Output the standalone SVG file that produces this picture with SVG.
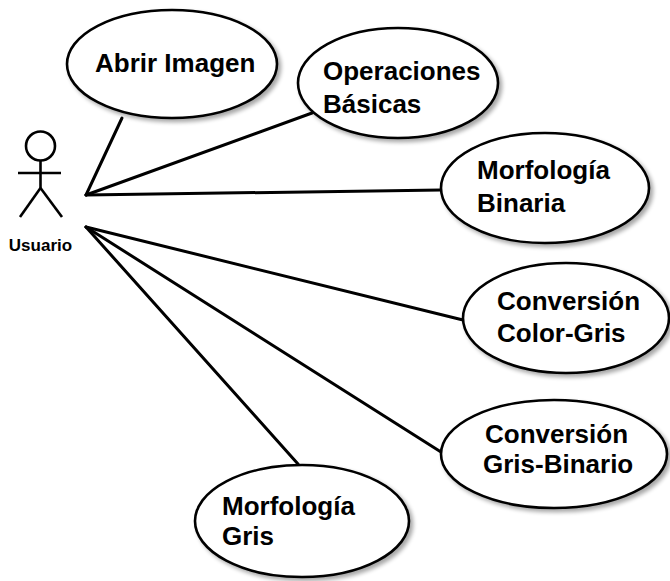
<svg xmlns="http://www.w3.org/2000/svg" width="670" height="581" viewBox="0 0 670 581">
<defs>
<filter id="sh" x="-10%" y="-10%" width="125%" height="130%">
<feGaussianBlur in="SourceAlpha" stdDeviation="2"/>
<feOffset dx="3" dy="3" result="b"/>
<feComponentTransfer><feFuncA type="linear" slope="0.35"/></feComponentTransfer>
<feMerge><feMergeNode/><feMergeNode in="SourceGraphic"/></feMerge>
</filter>
<style>
.uc{fill:#fff;stroke:#000;stroke-width:2.6;filter:url(#sh)}
.t{font-family:"Liberation Sans",Arial,sans-serif;font-weight:bold;font-size:26px;fill:#000}
.c{stroke:#000;stroke-width:3;fill:none;stroke-linecap:round}
.a{stroke:#000;stroke-width:2.6;fill:none}
</style>
</defs>
<rect width="670" height="581" fill="#fff"/>
<g id="connectors">
<line class="c" x1="86" y1="195" x2="122" y2="118"/>
<line class="c" x1="86" y1="195" x2="312" y2="113"/>
<line class="c" x1="86" y1="195" x2="441" y2="190"/>
<line class="c" x1="86" y1="227" x2="463" y2="320"/>
<line class="c" x1="86" y1="227" x2="441" y2="452"/>
<line class="c" x1="86" y1="227" x2="298" y2="464"/>
</g>
<g id="actor-usuario">
<circle class="a" cx="40.5" cy="146" r="14.5"/>
<line class="a" x1="40.5" y1="160.5" x2="40.5" y2="188"/>
<line class="a" x1="18" y1="173" x2="61" y2="173"/>
<line class="a" x1="40.5" y1="188" x2="20" y2="217"/>
<line class="a" x1="40.5" y1="188" x2="62" y2="217"/>
<text x="40.5" y="251" text-anchor="middle" style="font-family:'Liberation Sans',Arial,sans-serif;font-weight:bold;font-size:17px">Usuario</text>
</g>
<g id="uc-abrir-imagen">
<ellipse class="uc" cx="172" cy="64" rx="105" ry="54"/>
<text class="t" x="95" y="72">Abrir Imagen</text>
</g>
<g id="uc-operaciones-basicas">
<ellipse class="uc" cx="398" cy="83" rx="100" ry="55"/>
<text class="t" x="323" y="80">Operaciones</text>
<text class="t" x="323" y="113">Básicas</text>
</g>
<g id="uc-morfologia-binaria">
<ellipse class="uc" cx="545" cy="188" rx="104" ry="55"/>
<text class="t" x="477" y="179">Morfología</text>
<text class="t" x="477" y="212">Binaria</text>
</g>
<g id="uc-conversion-color-gris">
<ellipse class="uc" cx="566" cy="318" rx="103" ry="55"/>
<text class="t" x="497" y="310">Conversión</text>
<text class="t" x="497" y="342">Color-Gris</text>
</g>
<g id="uc-conversion-gris-binario">
<ellipse class="uc" cx="554" cy="454" rx="113" ry="54"/>
<text class="t" x="485" y="443">Conversión</text>
<text class="t" x="483" y="473">Gris-Binario</text>
</g>
<g id="uc-morfologia-gris">
<ellipse class="uc" cx="302" cy="521" rx="107" ry="56"/>
<text class="t" x="222" y="515">Morfología</text>
<text class="t" x="222" y="545">Gris</text>
</g>
</svg>
